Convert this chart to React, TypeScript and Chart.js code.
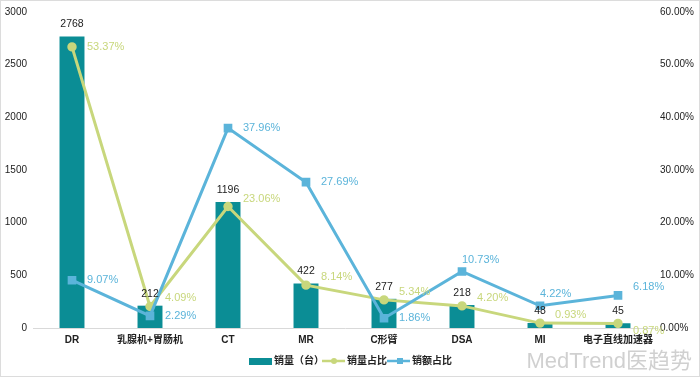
import React, { useEffect, useRef } from "react";
import { Chart, registerables } from "chart.js";

Chart.register(...registerables);

const categories = ["DR", "乳腺机+胃肠机", "CT", "MR", "C形臂", "DSA", "MI", "电子直线加速器"];
const salesUnits = [2768, 212, 1196, 422, 277, 218, 48, 45];
const unitShare = [53.37, 4.09, 23.06, 8.14, 5.34, 4.2, 0.93, 0.87];
const amountShare = [9.07, 2.29, 37.96, 27.69, 1.86, 10.73, 4.22, 6.18];
const leftTicks = [0, 500, 1000, 1500, 2000, 2500, 3000];
const rightTicks = [0, 10, 20, 30, 40, 50, 60];
const seriesNames = ["销量（台）", "销量占比", "销额占比"];

const unitLabelPos = ["r", "ru", "ru", "ru", "ru", "ru", "ru", "rd"];
const amountLabelPos = ["r", "r", "r", "r", "r", "t", "t", "ru"];

const BAR = "#0B8D95";
const YEL = "#C8D77C";
const BLUE = "#5BB4DA";
const FONT = "'Liberation Sans', 'Noto Sans CJK SC', sans-serif";

const labelPlugin = {
  id: "labels",
  afterDatasetsDraw(chart: any) {
    const ctx = chart.ctx;
    ctx.save();
    ctx.font = `10.5px ${FONT}`;
    const m0 = chart.getDatasetMeta(0);
    ctx.fillStyle = "#222";
    ctx.textAlign = "center";
    ctx.textBaseline = "middle";
    m0.data.forEach((el: any, i: number) => {
      ctx.fillText(String(salesUnits[i]), el.x, el.y - 12);
    });
    ctx.font = `11px ${FONT}`;
    const drawLine = (idx: number, vals: number[], pos: string[], color: string) => {
      const meta = chart.getDatasetMeta(idx);
      ctx.fillStyle = color;
      meta.data.forEach((el: any, i: number) => {
        const t = vals[i].toFixed(2) + "%";
        const p = pos[i];
        ctx.textAlign = "left";
        if (p === "t") {
          ctx.fillText(t, el.x, el.y - 12);
        } else {
          const dy = p === "ru" ? -8 : p === "rd" ? 8 : 0;
          ctx.fillText(t, el.x + 15, el.y + dy);
        }
      });
    };
    drawLine(1, unitShare, unitLabelPos, YEL);
    drawLine(2, amountShare, amountLabelPos, BLUE);

    const ly = 361;
    ctx.font = `bold 10px ${FONT}`;
    ctx.textBaseline = "middle";
    ctx.textAlign = "left";
    ctx.fillStyle = BAR;
    ctx.fillRect(249, ly - 3, 23, 7);
    ctx.fillStyle = "#222";
    ctx.fillText(seriesNames[0], 274, ly);
    ctx.strokeStyle = YEL;
    ctx.lineWidth = 2.5;
    ctx.beginPath();
    ctx.moveTo(322, ly);
    ctx.lineTo(345, ly);
    ctx.stroke();
    ctx.fillStyle = YEL;
    ctx.beginPath();
    ctx.arc(334, ly, 3, 0, Math.PI * 2);
    ctx.fill();
    ctx.fillStyle = "#222";
    ctx.fillText(seriesNames[1], 347, ly);
    ctx.strokeStyle = BLUE;
    ctx.beginPath();
    ctx.moveTo(387, ly);
    ctx.lineTo(410, ly);
    ctx.stroke();
    ctx.fillStyle = BLUE;
    ctx.fillRect(397, ly - 3, 6, 6);
    ctx.fillStyle = "#222";
    ctx.fillText(seriesNames[2], 412, ly);

    ctx.font = `22px ${FONT}`;
    ctx.fillStyle = "rgba(170,170,170,0.55)";
    ctx.textAlign = "right";
    ctx.fillText("MedTrend医趋势", 692, 362);
    ctx.restore();
  },
};

export default function App() {
  const ref = useRef<HTMLCanvasElement>(null);
  useEffect(() => {
    document.body.style.margin = "0";
    const chart = new Chart(ref.current!, {
      type: "bar",
      data: {
        labels: categories,
        datasets: [
          {
            type: "bar",
            label: seriesNames[0],
            data: salesUnits,
            backgroundColor: BAR,
            categoryPercentage: 1,
            barPercentage: 0.32,
            yAxisID: "y",
            order: 2,
          },
          {
            type: "line",
            label: seriesNames[1],
            data: unitShare,
            borderColor: YEL,
            backgroundColor: YEL,
            borderWidth: 3,
            pointRadius: 3.2,
            pointStyle: "circle",
            yAxisID: "y1",
            order: 1,
          },
          {
            type: "line",
            label: seriesNames[2],
            data: amountShare,
            borderColor: BLUE,
            backgroundColor: BLUE,
            borderWidth: 3,
            pointRadius: 4,
            pointStyle: "rect",
            yAxisID: "y1",
            order: 0,
          },
        ] as any,
      },
      options: {
        animation: false,
        responsive: false,
        layout: { padding: { top: 12, bottom: 25, left: 0, right: 0 } },
        plugins: { legend: { display: false }, tooltip: { enabled: false } },
        scales: {
          x: {
            grid: { display: false, drawTicks: false },
            border: { display: true, color: "#d9d9d9", width: 1 },
            ticks: { color: "#222", font: { family: FONT, size: 10, weight: "bold" }, padding: 6, maxRotation: 0, autoSkip: false },
            afterFit: (s: any) => { s.height = 24; },
          },
          y: {
            position: "left",
            min: 0,
            max: 3000,
            afterBuildTicks: (s: any) => { s.ticks = leftTicks.map((v) => ({ value: v })); },
            grid: { display: false, drawTicks: false },
            border: { display: false },
            ticks: { color: "#222", font: { family: FONT, size: 10 }, padding: 6, callback: (v: any) => String(v) },
            afterFit: (s: any) => { s.width = 33; },
          },
          y1: {
            position: "right",
            min: 0,
            max: 60,
            afterBuildTicks: (s: any) => { s.ticks = rightTicks.map((v) => ({ value: v })); },
            grid: { display: false, drawTicks: false },
            border: { display: false },
            ticks: { color: "#222", font: { family: FONT, size: 10 }, padding: 3, callback: (v: any) => Number(v).toFixed(2) + "%" },
            afterFit: (s: any) => { s.width = 43; },
          },
        },
      } as any,
      plugins: [labelPlugin],
    });
    return () => chart.destroy();
  }, []);
  return (
    <div style={{ position: "relative", width: 700, height: 377 }}>
      <canvas ref={ref} width={700} height={377} style={{ display: "block" }} />
      <div style={{ position: "absolute", inset: 0, border: "1px solid #dcdcdc", pointerEvents: "none" }} />
    </div>
  );
}
